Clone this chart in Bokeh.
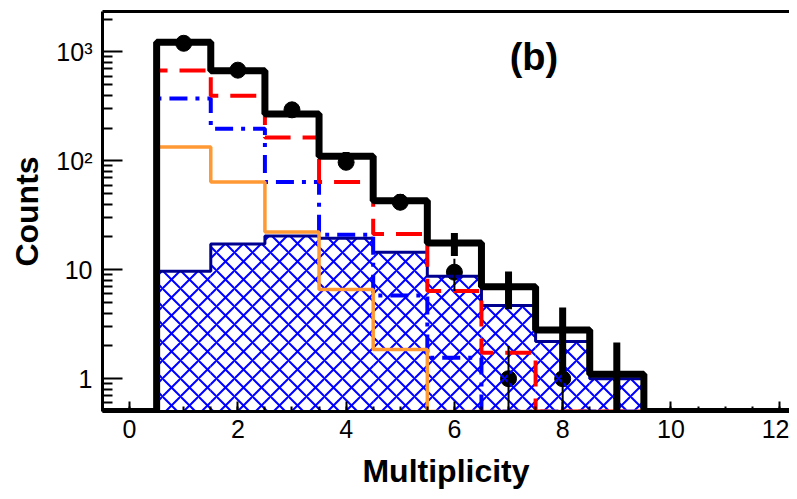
from bokeh.plotting import figure
from bokeh.models import FixedTicker, LinearAxis, Label
from bokeh.embed import file_html
from bokeh.resources import INLINE

# ---------------- data ----------------
centers = [0, 1, 2, 3, 4, 5, 6, 7, 8, 9, 10, 11, 12]
total_mc = [0, 1225, 673, 269, 110, 43, 17.6, 7.0, 2.8, 1.1, 0, 0, 0]
total_err = [0, 35, 26, 16.4, 10.5, 6.5, 4.2, 2.65, 1.7, 1.05, 0, 0, 0]
red_comp = [0, 675, 396, 164, 64, 21.3, 6.4, 1.73, 0, 0, 0, 0, 0]
blue_comp = [0, 374, 197, 64, 21, 5.8, 1.56, 0, 0, 0, 0, 0, 0]
orange_comp = [0, 134, 64, 22.2, 6.6, 1.85, 0, 0, 0, 0, 0, 0, 0]
hatched_comp = [0, 9.7, 17.2, 20.4, 19.5, 14.5, 8.7, 4.7, 2.2, 1.0, 0, 0, 0]

data_x = [1, 2, 3, 4, 5, 6, 7, 8]
data_y = [1200, 680, 294, 97, 41.7, 9.5, 1, 1]
data_err = [35, 26, 17, 9.9, 6.5, 3.1, 1, 1]

x_ticks = [0, 2, 4, 6, 8, 10, 12]
y_ticks = [1, 10, 100, 1000]
y_tick_labels = {1: "1", 10: "10", 100: "10\u00b2", 1000: "10\u00b3"}

Y_MIN, Y_MAX = 0.5, 2350
X_MIN, X_MAX = -0.5, 12.19
FONT = "Liberation Sans"


def step_xy(vals):
    xs, ys = [], []
    for c, v in zip(centers, vals):
        v = v if v > 0 else Y_MIN
        xs += [c - 0.5, c + 0.5]
        ys += [v, v]
    return xs, ys


p = figure(width=789, height=491, x_range=(X_MIN, X_MAX), y_range=(Y_MIN, Y_MAX),
           y_axis_type="log", output_backend="svg", toolbar_location=None,
           min_border_left=102, min_border_right=0, min_border_top=11, min_border_bottom=80)
p.grid.visible = False
p.outline_line_color = None
p.background_fill_color = "white"
p.border_fill_color = "white"

p.scatter(data_x, data_y, size=16, color="black")

hb = [c - 0.5 for c in centers]
he = [c + 0.5 for c in centers]
htop = [v if v > 0 else Y_MIN for v in hatched_comp]
p.quad(left=hb, right=he, bottom=[Y_MIN * 0.9] * len(centers), top=htop,
       fill_color=None, line_color=None,
       hatch_pattern="x", hatch_color="#0000FF", hatch_weight=2, hatch_scale=18)

xs, ys = step_xy(hatched_comp)
p.line(xs, ys, line_color="#000090", line_width=3)

xs, ys = step_xy(blue_comp)
p.line(xs, ys, line_color="#0000FF", line_width=4, line_dash="18 8 4 8")

xs, ys = step_xy(red_comp)
p.line(xs, ys, line_color="#FF0000", line_width=4, line_dash="26 12")

xs, ys = step_xy(orange_comp)
p.line(xs, ys, line_color="#FF9933", line_width=3.5)

xs, ys = step_xy(total_mc)
p.line(xs, ys, line_color="black", line_width=7)

mc_x = [c for c, v in zip(centers, total_mc) if v > 0]
mc_lo = [max(v - e, 0.1) for v, e in zip(total_mc, total_err) if v > 0]
mc_hi = [v + e for v, e in zip(total_mc, total_err) if v > 0]
p.segment(mc_x, mc_lo, mc_x, mc_hi, line_color="black", line_width=7)

d_lo = [max(v - e, 0.1) for v, e in zip(data_y, data_err)]
d_hi = [v + e for v, e in zip(data_y, data_err)]
p.segment(data_x, d_lo, data_x, d_hi, line_color="black", line_width=2)

xa = p.xaxis[0]
xa.ticker = FixedTicker(ticks=x_ticks, minor_ticks=[i * 0.5 for i in range(0, 26)])
xa.axis_label = "Multiplicity"
ya = p.yaxis[0]
ya.ticker = FixedTicker(ticks=y_ticks,
                        minor_ticks=[m * 10 ** e for e in range(-1, 4) for m in range(2, 10)])
ya.major_label_overrides = y_tick_labels
ya.axis_label = "Counts"

for ax in (xa, ya):
    ax.axis_line_width = 3
    ax.axis_line_color = "black"
    ax.major_tick_out = 0
    ax.minor_tick_out = 0
    ax.major_tick_line_width = 2
    ax.minor_tick_line_width = 2
    ax.major_label_text_font = FONT
    ax.major_label_text_font_size = "25px"
    ax.major_label_text_color = "black"
    ax.axis_label_text_font = FONT
    ax.axis_label_text_font_size = "32px"
    ax.axis_label_text_font_style = "bold"
    ax.axis_label_text_color = "black"

xa.major_tick_in = 10
xa.minor_tick_in = 5
xa.major_label_standoff = 8
xa.axis_label_standoff = 12
ya.major_tick_in = 20
ya.minor_tick_in = 10
ya.major_label_standoff = 10
ya.axis_label_standoff = 8

top = LinearAxis(ticker=FixedTicker(ticks=[]), axis_line_width=3, axis_line_color="black",
                 major_tick_in=0, major_tick_out=0, minor_tick_in=0, minor_tick_out=0,
                 major_label_text_font_size="0px", major_label_standoff=0)
p.add_layout(top, "above")

p.add_layout(Label(x=7.47, y=900, text="(b)", text_font=FONT, text_font_size="38px",
                   text_font_style="bold", text_align="center", text_baseline="middle",
                   text_color="black"))

open("out.html", "w").write(file_html(p, INLINE))
